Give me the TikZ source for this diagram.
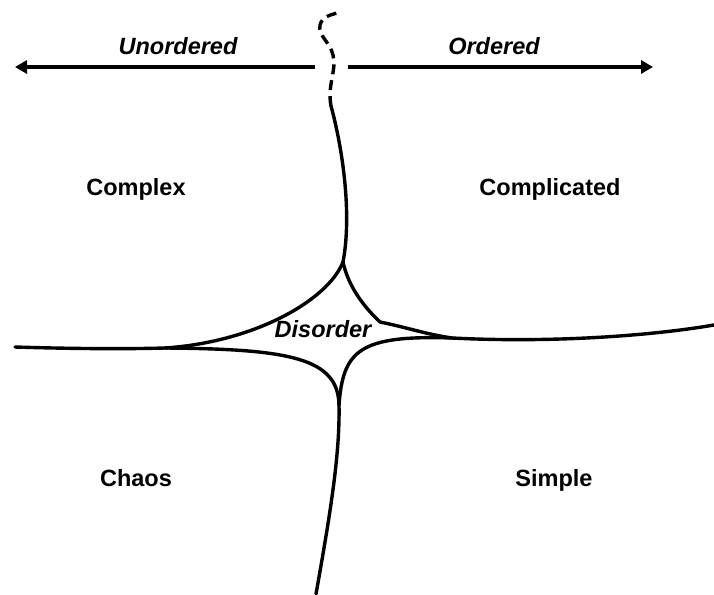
\documentclass[tikz,border=0pt]{standalone}
\usepackage{fontspec}
\setmainfont{Liberation Sans}
\usetikzlibrary{arrows.meta}
\begin{document}
\begin{tikzpicture}[x=1pt,y=-1pt,
  curve/.style={line width=3.4pt,line cap=round},
  axis/.style={line width=3.8pt,-{Triangle[length=12pt,width=13pt]}},
  lab/.style={font=\fontsize{23.5}{28}\selectfont\bfseries,anchor=base},
  ilab/.style={font=\fontsize{23.5}{28}\selectfont\bfseries\itshape,anchor=base}]
\useasboundingbox (0,0) rectangle (714,594);
% axis arrows
\coordinate (lstart) at (315,67);
\coordinate (lend) at (15,67);
\coordinate (rstart) at (348,67);
\coordinate (rend) at (653,67);
\draw[axis] (lstart) -- (lend);
\draw[axis] (rstart) -- (rend);
\node[ilab] (unord) at (178,55) {Unordered};
\node[ilab] (ord) at (494,55) {Ordered};
% key points
\coordinate (topS) at (331,106);
\coordinate (T) at (343,262);
\coordinate (R) at (380,322);
\coordinate (RM) at (452,338);
\coordinate (LM) at (165,348);
\coordinate (B) at (339,405);
\coordinate (left) at (15,347);
\coordinate (right) at (714,325);
\coordinate (bot) at (316,594);
\coordinate (dtop) at (342,12);
% dashed top
\draw[curve,line cap=butt,dash pattern=on 10pt off 6pt] (topS) .. controls (327,85) and (337,70) .. (333,55)
  .. controls (330,42) and (318,36) .. (320,25) .. controls (322,16) and (333,14) .. (dtop);
% solid top
\draw[curve] (topS) .. controls (343,150) and (352,215) .. (T);
% upper-left
\draw[curve] (T) .. controls (328,300) and (255,342) .. (LM);
% upper-right
\draw[curve] (T) .. controls (348,285) and (362,305) .. (R) .. controls (405,327) and (425,334) .. (RM);
% left horizontal
\draw[curve] (left) .. controls (80,349) and (130,349) .. (LM);
% right horizontal
\draw[curve] (RM) .. controls (550,343) and (650,336) .. (right);
% lower-right
\draw[curve] (RM) .. controls (360,335) and (343,350) .. (B);
% lower-left
\draw[curve] (LM) .. controls (290,349) and (338,358) .. (B);
% bottom
\draw[curve] (B) .. controls (340,455) and (330,515) .. (bot);
% labels
\node[lab] (complex) at (136,195) {Complex};
\node[lab] (complicated) at (550,195) {Complicated};
\node[lab] (chaos) at (136,486) {Chaos};
\node[lab] (simple) at (554,486) {Simple};
\node[ilab] (disorder) at (323,337) {Disorder};
\end{tikzpicture}
\end{document}
